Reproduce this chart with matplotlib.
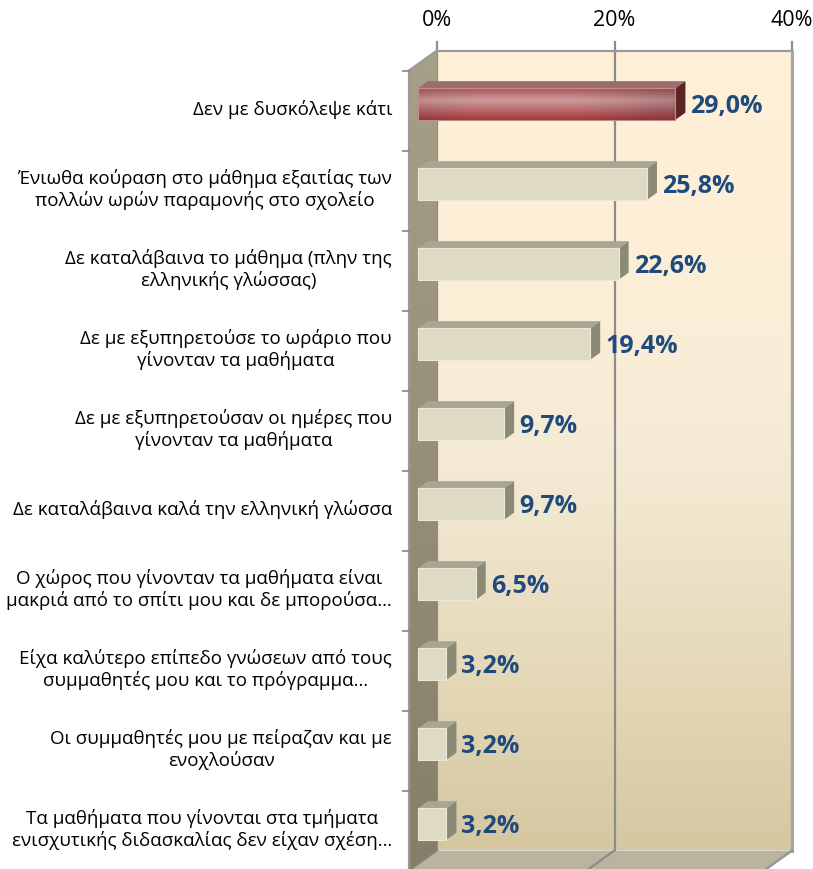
import numpy as np
import matplotlib
matplotlib.use("Agg")
import matplotlib.pyplot as plt
from matplotlib.patches import Polygon
from matplotlib.colors import LinearSegmentedColormap, to_rgb

plt.rcParams['font.family'] = ['Open Sans', 'DejaVu Sans']

# ---- data ----
categories = [
    "Δεν με δυσκόλεψε κάτι",
    "Ένιωθα κούραση στο μάθημα εξαιτίας των\nπολλών ωρών παραμονής στο σχολείο",
    "Δε καταλάβαινα το μάθημα (πλην της\nελληνικής γλώσσας)",
    "Δε με εξυπηρετούσε το ωράριο που\nγίνονταν τα μαθήματα",
    "Δε με εξυπηρετούσαν οι ημέρες που\nγίνονταν τα μαθήματα",
    "Δε καταλάβαινα καλά την ελληνική γλώσσα",
    "Ο χώρος που γίνονταν τα μαθήματα είναι\nμακριά από το σπίτι μου και δε μπορούσα…",
    "Είχα καλύτερο επίπεδο γνώσεων από τους\nσυμμαθητές μου και το πρόγραμμα…",
    "Οι συμμαθητές μου με πείραζαν και με\nενοχλούσαν",
    "Τα μαθήματα που γίνονται στα τμήματα\nενισχυτικής διδασκαλίας δεν είχαν σχέση…",
]
values = [29.0, 25.8, 22.6, 19.4, 9.7, 9.7, 6.5, 3.2, 3.2, 3.2]
x_ticks = [0, 20, 40]
x_tick_labels = ["0%", "20%", "40%"]

# ---- layout (oblique 3-D projection) ----
W, H, DPI = 813, 870, 100
PX_PER_PCT = 8.875          # horizontal scale
PX_PER_CAT = 80.0           # vertical pitch of a category
ORIGIN_X, ORIGIN_Y = 409, 71.5
DEPTH = np.array([28 / PX_PER_PCT, -20 / PX_PER_CAT])   # full wall depth
BAR_F0, BAR_F1 = 0.32, 0.68                              # bar depth span
BAR_H = 31.5 / PX_PER_CAT
XMAX = 40
N = len(categories)

fig = plt.figure(figsize=(W / DPI, H / DPI), dpi=DPI)
ax = fig.add_axes([0, 0, 1, 1])
ax.set_xlim(-ORIGIN_X / PX_PER_PCT, (W - ORIGIN_X) / PX_PER_PCT)
ax.set_ylim((H - ORIGIN_Y) / PX_PER_CAT, -ORIGIN_Y / PX_PER_CAT)
ax.axis('off')

dx, dy = DEPTH
edge_col = '#9A9A9A'


def vgrad(stops, n=256):
    cmap = LinearSegmentedColormap.from_list('g', stops)
    return cmap(np.linspace(0, 1, n))[:, None, :3]


# back wall with vertical gradient
bw_x0, bw_x1 = dx, XMAX + dx
bw_y0, bw_y1 = dy, N + dy
back_grad = vgrad([(0.0, '#FFF0D6'), (0.35, '#FBEED8'), (0.55, '#F3E9D2'),
                   (0.8, '#E3D7B6'), (1.0, '#D5C7A0')])
ax.imshow(np.repeat(back_grad, 4, axis=1), extent=(bw_x0, bw_x1, bw_y1, bw_y0),
          origin='upper', aspect='auto', zorder=1, interpolation='bilinear')

# gridlines on back wall and floor
for t in x_ticks:
    ax.plot([t + dx, t + dx], [bw_y0, bw_y1], color='#8C8C8C', lw=1.6, zorder=2)
    ax.plot([t + dx, t + dx], [bw_y0, bw_y0 - 9 / PX_PER_CAT], color='#8C8C8C', lw=1.6, zorder=2)
    ax.plot([t + dx, t], [bw_y1, N], color='#8C8C8C', lw=1.6, zorder=3.5)
ax.plot([bw_x0, bw_x1], [bw_y0, bw_y0], color=edge_col, lw=1.6, zorder=2)
ax.plot([bw_x1, bw_x1], [bw_y0, bw_y1], color='#A6A6A6', lw=2.2, zorder=2)

# floor
floor = Polygon([(0, N), (XMAX, N), (XMAX + dx, N + dy), (dx, N + dy)],
                closed=True, facecolor='#B9B3A0', edgecolor='none', zorder=3)
ax.add_patch(floor)
ax.plot([XMAX, XMAX + dx], [N, N + dy], color=edge_col, lw=1.6, zorder=3.5)

# left side wall with gradient
wall_poly = Polygon([(0, 0), (dx, dy), (dx, N + dy), (0, N)], closed=True,
                    facecolor='none', edgecolor='none', zorder=4)
ax.add_patch(wall_poly)
wall_grad = vgrad([(0.0, '#A89F8A'), (1.0, '#877E6A')])
wim = ax.imshow(np.repeat(wall_grad, 4, axis=1), extent=(0, dx, N, dy),
                origin='upper', aspect='auto', zorder=4, interpolation='bilinear')
wim.set_clip_path(wall_poly)
ax.plot([0, dx], [0, dy], color=edge_col, lw=1.6, zorder=4.5)
ax.plot([0, 0], [0, N], color=edge_col, lw=1.6, zorder=4.5)

# category ticks on the wall edge
for k in range(N + 1):
    ax.plot([-6 / PX_PER_PCT, 0], [k, k], color='#8C8C8C', lw=1.3, zorder=4.5)

# top axis labels
for t, lab in zip(x_ticks, x_tick_labels):
    ax.text(t + dx, dy - 31 / PX_PER_CAT, lab, ha='center', va='center',
            fontsize=15.5, color='#000000', zorder=6)

# ---- bars ----
red_front = vgrad([(0.0, '#A85A5B'), (0.12, '#B46C6E'), (0.38, '#CF9C9E'),
                   (0.7, '#B9696B'), (1.0, '#9E3B3B')], n=64)
xs = np.linspace(0, 1, 128)
shade = 0.82 + 0.18 * np.clip(np.sin(np.pi * (0.15 + 0.85 * xs)) + 0.1, 0, 1)
red_img = np.clip(red_front * shade[None, :, None], 0, 1)

for i, (cat, v) in enumerate(zip(categories, values)):
    cy = i + 0.5
    fx0, fy = BAR_F0 * dx, cy + BAR_F0 * dy
    top, bot = fy - BAR_H / 2, fy + BAR_H / 2
    x1 = v + fx0
    ddx, ddy = (BAR_F1 - BAR_F0) * dx, (BAR_F1 - BAR_F0) * dy
    highlight = i == 0
    top_c = '#9A6E70' if highlight else '#A8A692'
    side_c = '#5C2425' if highlight else '#8B8A76'
    front_c = '#DEDAC3'
    ax.add_patch(Polygon([(fx0, top), (x1, top), (x1 + ddx, top + ddy), (fx0 + ddx, top + ddy)],
                         closed=True, facecolor=top_c, edgecolor='none', zorder=5))
    ax.add_patch(Polygon([(x1, top), (x1, bot), (x1 + ddx, bot + ddy), (x1 + ddx, top + ddy)],
                         closed=True, facecolor=side_c, edgecolor='none', zorder=5))
    if highlight:
        ax.imshow(red_img, extent=(fx0, x1, bot, top), origin='upper',
                  aspect='auto', zorder=5.2, interpolation='bilinear')
        ax.add_patch(Polygon([(fx0, top), (x1, top), (x1, bot), (fx0, bot)], closed=True,
                             facecolor='none', edgecolor='#C88A8A', lw=0.8, zorder=5.3))
    else:
        ax.add_patch(Polygon([(fx0, top), (x1, top), (x1, bot), (fx0, bot)], closed=True,
                             facecolor=front_c, edgecolor='#ECE8D6', lw=0.8, zorder=5.2))

    # value label
    label = f"{v:.1f}".replace('.', ',') + '%'
    ax.text(BAR_F1 * dx + v + 5 / PX_PER_PCT, fy + 1.5 / PX_PER_CAT, label,
            ha='left', va='center', fontsize=18, fontweight='bold',
            color='#1F4A7E', zorder=6)

    # category label
    ax.text(-17 / PX_PER_PCT, cy - 2 / PX_PER_CAT, cat, ha='right', va='center',
            multialignment='center', fontsize=13.5, linespacing=1.18,
            color='#000000', zorder=6)

fig.savefig('out.png', dpi=DPI)
